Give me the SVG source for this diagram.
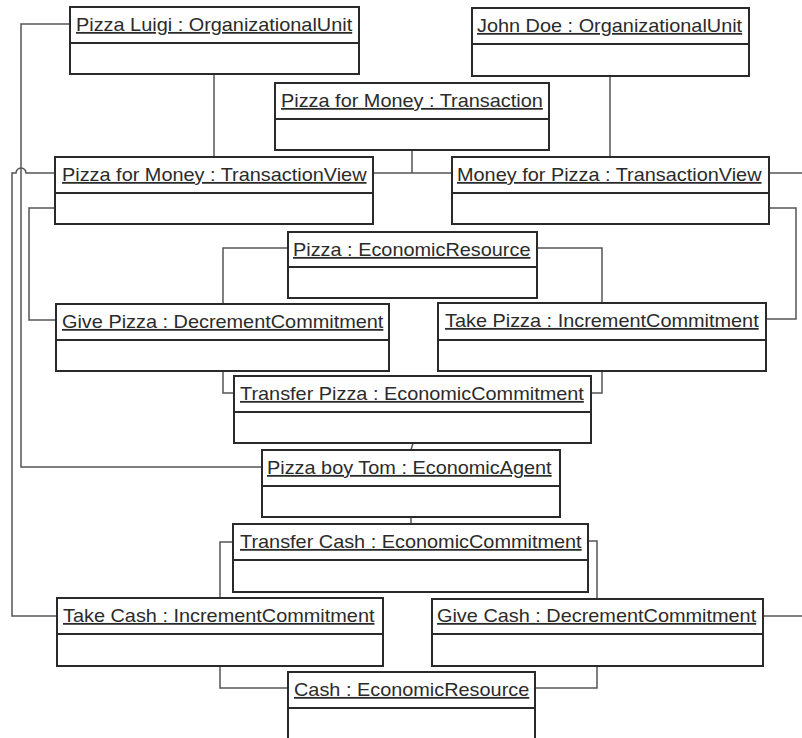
<svg xmlns="http://www.w3.org/2000/svg" width="802" height="738" viewBox="0 0 802 738">
<style>
.box{fill:#fff;stroke:#2a2a2a;stroke-width:2}
.div{stroke:#2a2a2a;stroke-width:2}
.lbl{font-family:"Liberation Sans",Arial,sans-serif;font-size:18px;fill:#2b2b2b;text-decoration:underline}
.conn path{fill:none;stroke:#555;stroke-width:1.5}
</style>
<rect width="802" height="738" fill="#fff"/>
<g class="conn" id="connectors">
<path d="M214,74 V157"/>
<path d="M610,76 V157"/>
<path d="M412,150 V173"/>
<path d="M373,173 H452"/>
<path d="M769,173 H802"/>
<path d="M70,24 H21 V467 H262"/>
<path d="M55,173 H26 A5,5 0 0 0 16,173 H12 V616 H57"/>
<path d="M55,208 H29 V320 H56"/>
<path d="M769,208 H796 V319 H766"/>
<path d="M288,248 H223 V304"/>
<path d="M537,248 H602 V303"/>
<path d="M223,371 V393 H234"/>
<path d="M602,371 V393 H591"/>
<path d="M413,443 L411,450"/>
<path d="M411,517 V524"/>
<path d="M233,542 H220 V598"/>
<path d="M588,541 H597 V599"/>
<path d="M220,666 V688 H288"/>
<path d="M597,666 V688 H535"/>
<path d="M763,616 H802"/>
</g>
<g id="pizzaLuigi">
<rect class="box" x="70" y="7" width="289" height="67"/>
<line class="div" x1="70" y1="43" x2="359" y2="43"/>
<text class="lbl" transform="translate(76,31) scale(1.105,1)">Pizza Luigi : OrganizationalUnit</text>
</g>
<g id="johnDoe">
<rect class="box" x="472" y="8" width="277" height="68"/>
<line class="div" x1="472" y1="44" x2="749" y2="44"/>
<text class="lbl" transform="translate(477,32) scale(1.105,1)">John Doe : OrganizationalUnit</text>
</g>
<g id="transaction">
<rect class="box" x="275" y="83" width="274" height="67"/>
<line class="div" x1="275" y1="119" x2="549" y2="119"/>
<text class="lbl" transform="translate(281,107) scale(1.105,1)">Pizza for Money : Transaction</text>
</g>
<g id="viewPizzaForMoney">
<rect class="box" x="55" y="157" width="318" height="67"/>
<line class="div" x1="55" y1="193" x2="373" y2="193"/>
<text class="lbl" transform="translate(62,181) scale(1.105,1)">Pizza for Money : TransactionView</text>
</g>
<g id="viewMoneyForPizza">
<rect class="box" x="452" y="157" width="317" height="67"/>
<line class="div" x1="452" y1="193" x2="769" y2="193"/>
<text class="lbl" transform="translate(457,181) scale(1.105,1)">Money for Pizza : TransactionView</text>
</g>
<g id="pizzaResource">
<rect class="box" x="288" y="232" width="249" height="66"/>
<line class="div" x1="288" y1="267" x2="537" y2="267"/>
<text class="lbl" transform="translate(293,256) scale(1.105,1)">Pizza : EconomicResource</text>
</g>
<g id="givePizza">
<rect class="box" x="56" y="304" width="333" height="67"/>
<line class="div" x1="56" y1="340" x2="389" y2="340"/>
<text class="lbl" transform="translate(62,328) scale(1.105,1)">Give Pizza : DecrementCommitment</text>
</g>
<g id="takePizza">
<rect class="box" x="438" y="303" width="328" height="68"/>
<line class="div" x1="438" y1="340" x2="766" y2="340"/>
<text class="lbl" transform="translate(445,327) scale(1.105,1)">Take Pizza : IncrementCommitment</text>
</g>
<g id="transferPizza">
<rect class="box" x="234" y="376" width="357" height="67"/>
<line class="div" x1="234" y1="412" x2="591" y2="412"/>
<text class="lbl" transform="translate(240,400) scale(1.105,1)">Transfer Pizza : EconomicCommitment</text>
</g>
<g id="pizzaBoyTom">
<rect class="box" x="262" y="450" width="298" height="67"/>
<line class="div" x1="262" y1="486" x2="560" y2="486"/>
<text class="lbl" transform="translate(267,474) scale(1.105,1)">Pizza boy Tom : EconomicAgent</text>
</g>
<g id="transferCash">
<rect class="box" x="233" y="524" width="355" height="68"/>
<line class="div" x1="233" y1="560" x2="588" y2="560"/>
<text class="lbl" transform="translate(240,548) scale(1.105,1)">Transfer Cash : EconomicCommitment</text>
</g>
<g id="takeCash">
<rect class="box" x="57" y="598" width="326" height="68"/>
<line class="div" x1="57" y1="634" x2="383" y2="634"/>
<text class="lbl" transform="translate(63,622) scale(1.105,1)">Take Cash : IncrementCommitment</text>
</g>
<g id="giveCash">
<rect class="box" x="432" y="599" width="331" height="67"/>
<line class="div" x1="432" y1="634" x2="763" y2="634"/>
<text class="lbl" transform="translate(437,622) scale(1.105,1)">Give Cash : DecrementCommitment</text>
</g>
<g id="cashResource">
<rect class="box" x="288" y="672" width="247" height="80"/>
<line class="div" x1="288" y1="708" x2="535" y2="708"/>
<text class="lbl" transform="translate(294,696) scale(1.105,1)">Cash : EconomicResource</text>
</g>
</svg>
